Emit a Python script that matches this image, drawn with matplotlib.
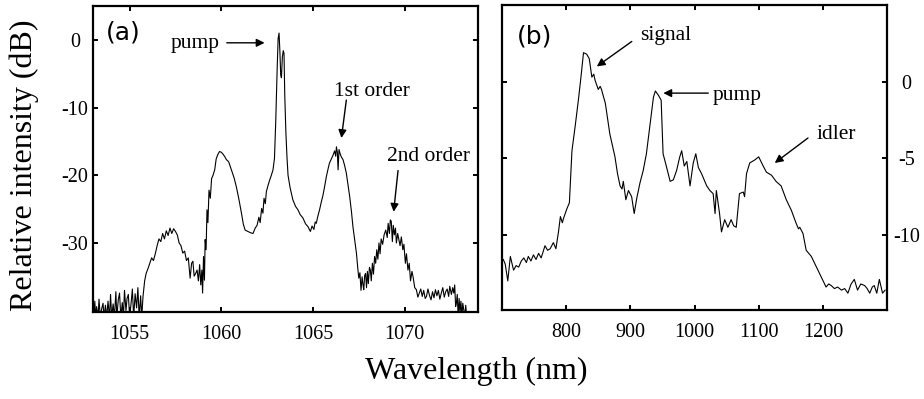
import matplotlib
matplotlib.use("Agg")
import matplotlib.pyplot as plt

plt.rcParams["axes.unicode_minus"] = False

# Panel (a): spectrum around the 1063 nm pump
wl_a = [1053.05, 1053.1, 1053.15, 1053.2, 1053.28, 1053.33, 1053.4, 1053.47, 1053.55, 1053.6,
        1053.68, 1053.75, 1053.82, 1053.9, 1053.96, 1054.02, 1054.1, 1054.17, 1054.25, 1054.3,
        1054.38, 1054.45, 1054.52, 1054.6, 1054.66, 1054.72, 1054.8, 1054.86, 1054.93, 1055.0,
        1055.08, 1055.15, 1055.22, 1055.3, 1055.38, 1055.45, 1055.52, 1055.6, 1055.66, 1055.73,
        1055.82, 1055.9, 1056.0, 1056.1, 1056.2, 1056.3, 1056.4, 1056.5, 1056.6, 1056.7,
        1056.8, 1056.9, 1057.0, 1057.1, 1057.2, 1057.3, 1057.4, 1057.5, 1057.6, 1057.7,
        1057.8, 1057.9, 1058.0, 1058.1, 1058.2, 1058.3, 1058.38, 1058.45, 1058.52, 1058.6,
        1058.68, 1058.75, 1058.82, 1058.88, 1058.94, 1058.98, 1059.03, 1059.08, 1059.12, 1059.17,
        1059.22, 1059.27, 1059.33, 1059.4, 1059.47, 1059.55, 1059.64, 1059.72, 1059.8, 1059.9,
        1060.0, 1060.1, 1060.2, 1060.28, 1060.4, 1060.55, 1060.7, 1060.82, 1060.95, 1061.1,
        1061.2, 1061.3, 1061.45, 1061.6, 1061.73, 1061.85, 1061.95, 1062.05, 1062.12, 1062.2,
        1062.27, 1062.33, 1062.4, 1062.46, 1062.55, 1062.64, 1062.73, 1062.82, 1062.9, 1062.97,
        1063.05, 1063.1, 1063.15, 1063.2, 1063.24, 1063.28, 1063.33, 1063.38, 1063.42, 1063.46,
        1063.52, 1063.58, 1063.64, 1063.75, 1063.9, 1064.05, 1064.18, 1064.3, 1064.45, 1064.6,
        1064.73, 1064.8, 1064.86, 1064.95, 1065.05, 1065.12, 1065.18, 1065.27, 1065.36, 1065.45,
        1065.55, 1065.64, 1065.73, 1065.82, 1065.9, 1066.0, 1066.1, 1066.18, 1066.24, 1066.28,
        1066.33, 1066.37, 1066.42, 1066.5, 1066.57, 1066.64, 1066.73, 1066.82, 1066.9, 1067.0,
        1067.1, 1067.18, 1067.28, 1067.37, 1067.44, 1067.5, 1067.56, 1067.62, 1067.68, 1067.73,
        1067.77, 1067.82, 1067.87, 1067.92, 1067.97, 1068.02, 1068.08, 1068.13, 1068.18, 1068.24,
        1068.3, 1068.36, 1068.42, 1068.48, 1068.54, 1068.6, 1068.66, 1068.72, 1068.8, 1068.88,
        1068.97, 1069.05, 1069.1, 1069.17, 1069.22, 1069.27, 1069.33, 1069.38, 1069.44, 1069.5,
        1069.55, 1069.62, 1069.68, 1069.75, 1069.82, 1069.9, 1069.96, 1070.04, 1070.1, 1070.18,
        1070.25, 1070.32, 1070.4, 1070.46, 1070.55, 1070.64, 1070.72, 1070.8, 1070.88, 1070.96,
        1071.04, 1071.12, 1071.19, 1071.27, 1071.36, 1071.44, 1071.52, 1071.6, 1071.68, 1071.76,
        1071.84, 1071.92, 1072.0, 1072.08, 1072.16, 1072.24, 1072.32, 1072.4, 1072.46, 1072.55,
        1072.62, 1072.68, 1072.73, 1072.78, 1072.82, 1072.87, 1072.92, 1072.97, 1073.02, 1073.07,
        1073.12, 1073.17, 1073.22, 1073.28, 1073.33, 1073.37, 1073.42, 1073.47]
db_a = [-41, -38.6, -41, -39.4, -41, -38.3, -41, -39.8, -38.9, -41,
        -39.2, -41, -38.6, -41, -37.6, -41, -39.0, -41, -37.2, -41,
        -38.4, -37.4, -41, -38.8, -41, -37.0, -40, -38.2, -37.6, -41,
        -38.9, -36.8, -41, -37.5, -39.6, -36.6, -41, -37.8, -41, -37.9,
        -35.6, -34.5, -33.8, -33.0, -32.2, -32.6, -31.6, -30.4, -29.4, -29.8,
        -28.6, -29.4, -28.2, -28.9, -27.8, -28.6, -27.9, -28.3, -28.8, -30.0,
        -30.4, -31.5, -31.2, -32.6, -32.2, -35.2, -33.0, -32.7, -34.9, -34.5,
        -34.0, -35.6, -33.2, -36.2, -34.0, -37.4, -32.0, -35.5, -29.5, -31.0,
        -25.1, -27.0, -22.2, -23.4, -20.5, -20.0, -19.2, -17.6, -17.0, -16.5,
        -16.6, -16.9, -17.3, -17.7, -18.0, -19.2, -20.4, -21.7, -23.4, -25.6,
        -27.2, -28.1, -28.3, -28.5, -28.6, -27.8, -27.4, -26.2, -27.0, -24.9,
        -25.6, -23.4, -24.2, -22.4, -21.5, -20.7, -20.0, -19.2, -17.5, -12.0,
        -4.0, 0.2, 1.0, -2.0, -5.2, -5.6, -2.5, -1.6, -2.0, -8.0,
        -13.5, -17.2, -20.0, -21.8, -23.6, -24.6, -25.1, -25.8, -26.3, -27.2,
        -27.6, -28.0, -28.3, -27.5, -28.0, -26.9, -27.1, -26.0, -25.1, -24.0,
        -22.9, -21.6, -20.2, -19.1, -18.2, -17.6, -17.0, -16.4, -17.2, -15.8,
        -16.6, -19.2, -16.2, -17.0, -17.4, -17.7, -18.6, -19.7, -21.2, -23.1,
        -25.4, -27.6, -29.6, -31.5, -33.6, -35.2, -34.4, -37.0, -35.0, -36.2,
        -36.9, -34.8, -34.5, -36.6, -34.2, -36.0, -33.6, -34.0, -35.6, -33.0,
        -34.6, -32.0, -33.0, -31.0, -32.4, -30.0, -31.6, -29.4, -30.2, -28.8,
        -28.1, -29.2, -27.1, -28.6, -26.6, -26.8, -29.8, -27.4, -28.8, -27.8,
        -30.0, -28.6, -29.4, -30.4, -29.1, -31.0, -30.2, -33.0, -31.6, -34.0,
        -33.0, -35.6, -34.2, -35.0, -36.6, -36.9, -38.0, -37.4, -36.8, -37.9,
        -37.0, -38.2, -37.9, -36.8, -37.8, -38.4, -37.2, -38.1, -36.9, -37.8,
        -37.0, -38.3, -37.4, -36.6, -38.0, -37.2, -36.8, -37.9, -36.4, -37.6,
        -36.6, -37.4, -36.2, -39.4, -38.9, -37.6, -41, -38.2, -40.2, -38.6,
        -41, -38.9, -39.8, -41, -39.2, -40.4, -41, -40.5]

# Panel (b): broadband spectrum with signal / pump / idler
wl_b = [702, 705, 709, 713, 718, 722, 726, 730, 734, 738,
        741, 745, 749, 753, 757, 761, 767, 771, 775, 780,
        784, 788, 791, 794, 796, 801, 805, 809, 814, 819,
        823, 827, 832, 836, 840, 843, 845, 850, 853, 855,
        861, 868, 876, 880, 884, 887, 889, 893, 897, 902,
        906, 910, 915, 920, 925, 931, 936, 939, 944, 948,
        951, 956, 962, 967, 972, 977, 980, 984, 988, 993,
        998, 1002, 1006, 1011, 1019, 1024, 1029, 1032, 1034, 1039,
        1042, 1047, 1052, 1057, 1061, 1065, 1070, 1076, 1078, 1081,
        1086, 1094, 1100, 1107, 1112, 1120, 1127, 1135, 1143, 1151,
        1158, 1162, 1164, 1169, 1174, 1182, 1190, 1197, 1205, 1209,
        1213, 1218, 1223, 1229, 1234, 1239, 1244, 1249, 1254, 1259,
        1265, 1269, 1273, 1277, 1280, 1284, 1288, 1293, 1297]
db_b = [-11.6, -11.9, -13.0, -11.4, -12.3, -12.0, -12.1, -11.7, -11.5, -11.8,
        -11.4, -11.7, -11.3, -11.6, -11.2, -11.5, -10.7, -11.0, -10.9, -10.5,
        -10.9, -9.8, -8.8, -9.2, -8.9, -8.3, -7.9, -4.5, -2.9, -1.2,
        0.3, 1.9, 1.8, 1.5, 0.3, 0.5, 0.1, -0.5, -0.3, -0.5,
        -1.4, -3.4, -4.9, -6.0, -6.8, -7.0, -6.5, -7.7, -7.1, -7.5,
        -8.6, -7.6, -6.6, -5.8, -4.7, -2.7, -1.0, -0.6, -0.9, -1.2,
        -4.7, -5.5, -6.5, -6.4, -5.8, -4.9, -4.5, -5.5, -5.2, -6.8,
        -5.3, -4.7, -5.6, -6.0, -6.8, -7.1, -7.3, -8.6, -7.1, -8.6,
        -9.8, -9.0, -9.5, -9.0, -9.4, -9.5, -7.3, -7.2, -7.5, -6.0,
        -5.3, -5.1, -4.9, -5.5, -5.9, -6.1, -6.5, -6.8, -7.7, -8.4,
        -9.2, -9.6, -9.5, -9.9, -11.0, -11.4, -12.1, -12.7, -13.4, -13.2,
        -13.3, -13.5, -13.4, -13.6, -13.5, -13.8, -13.2, -12.9, -13.6, -13.2,
        -13.3, -13.5, -13.8, -13.4, -13.3, -13.8, -12.9, -13.8, -13.6]

ticks_a_x = [1055, 1060, 1065, 1070]
ticks_a_y = [0, -10, -20, -30]
ticks_b_x = [800, 900, 1000, 1100, 1200]
ticks_b_y = [0, -5, -10]

serif = "Liberation Serif"
fig = plt.figure(figsize=(9.24, 3.99), dpi=100)
ax_a = fig.add_axes([0.1006, 0.218, 0.4167, 0.767])
ax_b = fig.add_axes([0.5433, 0.223, 0.4167, 0.764])

arrow = dict(arrowstyle="-|>", color="black", lw=1.0, mutation_scale=12,
             shrinkA=0, shrinkB=0)


def style_axes(ax):
    for sp in ax.spines.values():
        sp.set_linewidth(1.6)
    ax.tick_params(direction="in", length=3.5, width=1.4, labelsize=14.5,
                   top=True, bottom=True, left=True, right=True)
    ax.tick_params(axis="x", pad=9)
    for lab in ax.get_xticklabels() + ax.get_yticklabels():
        lab.set_fontfamily(serif)


# (a)
ax_a.plot(wl_a, db_a, color="black", lw=0.8)
ax_a.set_xlim(1053, 1074)
ax_a.set_ylim(-40.2, 5)
ax_a.set_xticks(ticks_a_x)
ax_a.set_yticks(ticks_a_y)
style_axes(ax_a)
ax_a.tick_params(axis="y", pad=13)
for lab in ax_a.get_yticklabels():
    lab.set_horizontalalignment("center")
ax_a.text(0.079, 0.913, "(a)", transform=ax_a.transAxes, fontsize=18,
          family="DejaVu Sans", ha="center", va="center")
ax_a.text(1058.55, -1.2, "pump", fontsize=15.5, family=serif, ha="center")
ax_a.annotate("", xy=(1062.36, -0.44), xytext=(1060.3, -0.44), arrowprops=arrow)
ax_a.text(1068.23, -8.3, "1st order", fontsize=15.5, family=serif, ha="center")
ax_a.annotate("", xy=(1066.55, -14.5), xytext=(1066.82, -8.9), arrowprops=arrow)
ax_a.text(1071.31, -17.9, "2nd order", fontsize=15.5, family=serif, ha="center")
ax_a.annotate("", xy=(1069.4, -25.4), xytext=(1069.64, -19.3), arrowprops=arrow)

# (b)
ax_b.plot(wl_b, db_b, color="black", lw=0.8)
ax_b.set_xlim(700, 1300)
ax_b.set_ylim(-14.9, 5)
ax_b.set_xticks(ticks_b_x)
ax_b.set_yticks(ticks_b_y)
style_axes(ax_b)
ax_b.tick_params(axis="y", labelleft=False, labelright=True, pad=14)
for tick in ax_b.yaxis.get_major_ticks():
    tick.label2.set_horizontalalignment("center")
    tick.label2.set_fontfamily(serif)
ax_b.text(0.084, 0.898, "(b)", transform=ax_b.transAxes, fontsize=18,
          family="DejaVu Sans", ha="center", va="center")
ax_b.text(955.5, 2.74, "signal", fontsize=15.5, family=serif, ha="center")
ax_b.annotate("", xy=(847.7, 1.0), xytext=(902.2, 2.63), arrowprops=arrow)
ax_b.text(1066.7, -1.17, "pump", fontsize=15.5, family=serif, ha="center")
ax_b.annotate("", xy=(951.4, -0.74), xytext=(1021.4, -0.74), arrowprops=arrow)
ax_b.text(1221.5, -3.74, "idler", fontsize=15.5, family=serif, ha="center")
ax_b.annotate("", xy=(1125, -5.3), xytext=(1176.8, -3.67), arrowprops=arrow)

fig.text(0.515, 0.07, "Wavelength (nm)", fontsize=23, family=serif,
         ha="center", va="center")
fig.text(0.026, 0.586, "Relative intensity (dB)", fontsize=23, family=serif,
         ha="center", va="center", rotation=90)

fig.savefig("out.png", dpi=100)
